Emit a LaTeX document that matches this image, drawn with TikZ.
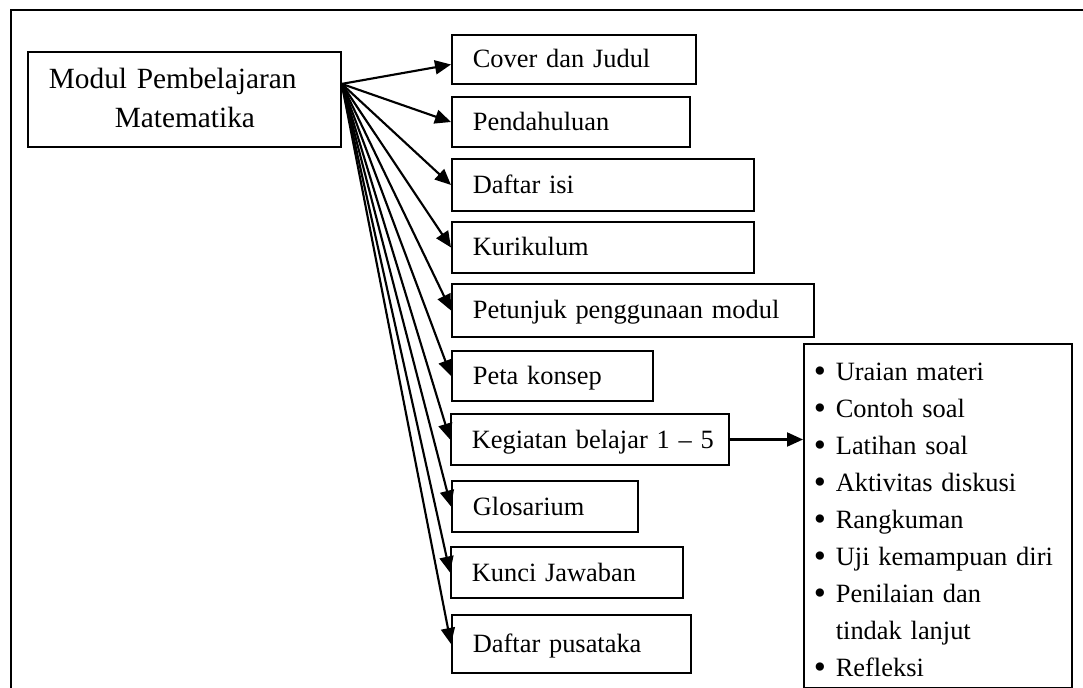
\documentclass[tikz,border=0pt]{standalone}
\usepackage{fontspec}
\setmainfont{Liberation Serif}
\usetikzlibrary{arrows.meta,calc}
\newcommand{\blt}[1]{\hangindent=16.5pt\hangafter=1\noindent\makebox[16.5pt][l]{\raisebox{-1.6pt}{\fontsize{26pt}{0pt}\selectfont\textbullet}}#1\par}
\tikzset{
  boxline/.style={draw, line width=1.3pt},
  itembox/.style={boxline, align=left, inner xsep=15.75pt, inner ysep=0pt,
    text height=12.75pt, text depth=0pt, minimum height=38.25pt, anchor=west,
    font=\fontsize{19.8pt}{23pt}\selectfont, text width=#1},
  arr/.style={line width=1.6pt, -{Triangle[length=12pt,width=10.5pt]}},
}
\begin{document}
\begin{tikzpicture}[x=0.75pt,y=-0.75pt]
\useasboundingbox (0,0) rectangle (1083,688);
\clip (0,0) rectangle (1083,688);
\draw[line width=1.6pt] (11,10) rectangle (1120,720);

% main box
\node[boxline, anchor=north west, align=left, inner xsep=15.75pt, inner ysep=0pt,
  text width=203.25pt, minimum height=71.25pt, text height=13.5pt, text depth=29.25pt,
  font=\fontsize{22pt}{29.25pt}\selectfont] (main) at (27,51)
  {Modul Pembelajaran\\\hspace*{49.5pt}Matematika};
\coordinate (o) at ([yshift=11.6pt]main.east);

% items
\node[itembox=151.5pt, minimum height=36.75pt] (cover) at (451,59.5) {Cover dan Judul};
\node[itembox=147pt, minimum height=37.5pt] (pend) at (451,122) {Pendahuluan};
\node[itembox=195pt, minimum height=39pt] (isi) at (451,185) {Daftar isi};
\node[itembox=195pt] (kur) at (451,247.5) {Kurikulum};
\node[itembox=240pt, minimum height=39.75pt] (pet) at (451,310.5) {Petunjuk penggunaan modul};
\node[itembox=119.25pt, minimum height=37.5pt] (peta) at (451,376) {Peta konsep};
\node[itembox=177pt] (keg) at (450,439.5) {\mbox{Kegiatan belajar 1 -- 5}};
\node[itembox=108pt] (glos) at (451,506.5) {Glosarium};
\node[itembox=142.5pt] (kunci) at (450,572.5) {Kunci Jawaban};
\node[itembox=147.75pt, minimum height=43.5pt] (pus) at (451,644) {Daftar pusataka};

% list box
\node[boxline, anchor=north west, align=left, inner xsep=7.5pt, inner ysep=0pt,
  text width=186pt, minimum height=258pt, text height=18.75pt, text depth=222pt,
  font=\fontsize{19.8pt}{27.75pt}\selectfont] (list) at (803,343)
  {\parskip=0pt
   \blt{Uraian materi}
   \blt{Contoh soal}
   \blt{Latihan soal}
   \blt{Aktivitas diskusi}
   \blt{Rangkuman}
   \blt{Uji kemampuan diri}
   \blt{Penilaian dan\newline tindak lanjut}
   \blt{Refleksi}};

% connectors
\draw[arr] (o) -- ([yshift=-3.75pt]cover.west);
\foreach \n in {pend,isi,kur,pet,peta,keg,glos,kunci,pus}
  \draw[arr] (o) -- (\n.west);
\draw[arr] (keg.east) -- (keg.east -| list.west);
\end{tikzpicture}
\end{document}
